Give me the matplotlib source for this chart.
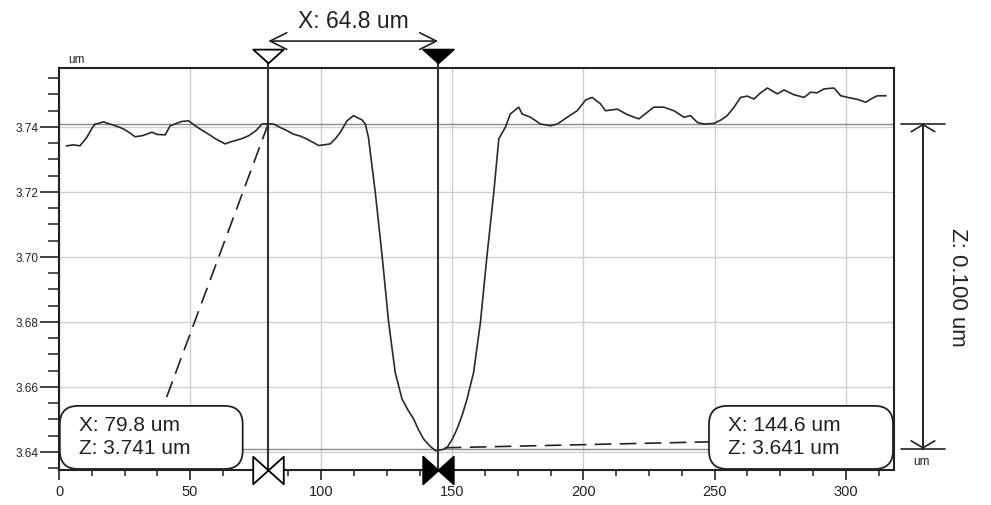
import matplotlib
matplotlib.use("Agg")
import matplotlib.pyplot as plt
import matplotlib.transforms as mtransforms
from matplotlib.path import Path
from matplotlib.patches import FancyBboxPatch
from matplotlib.ticker import MultipleLocator, FormatStrFormatter

plt.rcParams['font.family'] = ['Liberation Sans', 'DejaVu Sans']

# ---- profile data (x in um, z in um) ----
x_um = [2.9, 5.5, 8.0, 10.6, 12.5, 13.7, 15.5, 16.9, 19.0, 21.4, 23.5, 25.2, 27.0, 29.0,
        31.6, 33.5, 35.4, 37.5, 40.5, 42.4, 44.5, 46.8, 49.4, 51.9, 54.5, 57.0, 60.0,
        63.4, 65.0, 67.2, 70.0, 72.3, 75.0, 77.4, 79.8, 81.8, 84.5, 86.9, 89.4, 92.0,
        94.5, 97.0, 99.0, 101.0, 103.4, 105.5, 107.3, 109.8, 112.3, 114.0, 115.5, 116.8,
        118.0, 118.7, 120.6, 123.2, 125.7, 128.2, 130.8, 133.0, 135.2, 137.0, 139.0,
        141.5, 143.5, 144.6, 146.5, 148.0, 150.0, 151.8, 153.8, 155.6, 158.1, 160.7,
        163.2, 165.8, 167.7, 168.5, 170.2, 172.1, 175.3, 176.6, 179.8, 183.6, 187.4,
        190.0, 193.8, 197.6, 200.8, 203.3, 206.5, 208.4, 212.9, 216.7, 221.1, 223.5,
        226.8, 230.6, 234.5, 238.3, 240.8, 243.4, 245.9, 249.7, 252.5, 254.8, 257.4,
        259.9, 262.5, 265.0, 267.5, 270.1, 273.9, 276.5, 280.0, 284.1, 286.6, 289.0,
        291.7, 295.5, 298.1, 301.9, 304.5, 307.6, 310.0, 312.1, 315.3]
z_um = [3.7342, 3.7345, 3.7342, 3.7368, 3.7395, 3.7409, 3.7412, 3.7416, 3.7410, 3.7404,
        3.7398, 3.7391, 3.7382, 3.7370, 3.7373, 3.7378, 3.7384, 3.7377, 3.7376, 3.7404,
        3.7410, 3.7417, 3.7419, 3.7404, 3.7390, 3.7378, 3.7362, 3.7348, 3.7353, 3.7358,
        3.7365, 3.7373, 3.7388, 3.7409, 3.7410, 3.7409, 3.7398, 3.7389, 3.7378, 3.7372,
        3.7363, 3.7352, 3.7343, 3.7345, 3.7348, 3.7365, 3.7384, 3.7419, 3.7435, 3.7428,
        3.7422, 3.7409, 3.7368, 3.7322, 3.7199, 3.7004, 3.6799, 3.6645, 3.6563, 3.6530,
        3.6502, 3.6470, 3.6440, 3.6418, 3.6404, 3.6405, 3.6408, 3.6414, 3.6440, 3.6471,
        3.6515, 3.6563, 3.6645, 3.6799, 3.7004, 3.7199, 3.7363, 3.7375, 3.7399, 3.7440,
        3.7461, 3.7440, 3.7430, 3.7409, 3.7404, 3.7409, 3.7430, 3.7450, 3.7483, 3.7491,
        3.7471, 3.7450, 3.7455, 3.7438, 3.7425, 3.7440, 3.7461, 3.7461, 3.7450, 3.7430,
        3.7435, 3.7414, 3.7409, 3.7411, 3.7422, 3.7435, 3.7461, 3.7491, 3.7495, 3.7486,
        3.7505, 3.7520, 3.7502, 3.7514, 3.7500, 3.7491, 3.7507, 3.7505, 3.7517, 3.7520,
        3.7496, 3.7489, 3.7485, 3.7476, 3.7488, 3.7496, 3.7496]

# ---- cursors ----
cursor_x = [79.8, 144.6]
cursor_z = [3.741, 3.641]
dx_label = "X: 64.8 um"
dz_label = "Z: 0.100 um"
box1_lines = ["X: 79.8 um", "Z: 3.741 um"]
box2_lines = ["X: 144.6 um", "Z: 3.641 um"]

x_ticks = [0, 50, 100, 150, 200, 250, 300]
y_ticks = [3.64, 3.66, 3.68, 3.70, 3.72, 3.74]

XMIN, XMAX = 0, 318.4
YMIN, YMAX = 3.63446, 3.75815

TXT = '#222222'

fig = plt.figure(figsize=(9.91, 5.06), dpi=100)
ax = fig.add_axes([59 / 991, 35 / 506, 835 / 991, 402 / 506])
ax.set_xlim(XMIN, XMAX)
ax.set_ylim(YMIN, YMAX)

# grid
ax.set_xticks(x_ticks)
ax.set_yticks(y_ticks)
ax.xaxis.set_minor_locator(MultipleLocator(12.5))
ax.yaxis.set_minor_locator(MultipleLocator(0.005))
ax.yaxis.set_major_formatter(FormatStrFormatter('%.2f'))
ax.grid(True, which='major', color='#cfcfcf', lw=1.0, zorder=0)
ax.set_axisbelow(True)

ax.tick_params(axis='x', which='major', direction='out', length=7, width=1.2,
               labelsize=10.5, pad=3, colors=TXT)
ax.tick_params(axis='x', which='minor', direction='out', length=4, width=1.1, colors=TXT)
ax.tick_params(axis='y', which='major', direction='out', length=14, width=1.2,
               labelsize=8.5, pad=1, colors=TXT)
ax.tick_params(axis='y', which='minor', direction='out', length=8, width=1.1, colors=TXT)
for s in ax.spines.values():
    s.set_color('#222222')
    s.set_linewidth(1.5)

# horizontal cursor level lines
for zc in cursor_z:
    ax.axhline(zc, color='#8a8a8a', lw=1.0, zorder=1)
# vertical cursor lines
for xc in cursor_x:
    ax.axvline(xc, color='#333333', lw=1.5, zorder=2)

# profile
ax.plot(x_um, z_um, color='#2a2a2a', lw=1.2, zorder=3)

# dashed leader lines to callout boxes
b1 = (0.001, 0.0025, 0.219, 0.157)   # axes-fraction box: x0, y0, w, h
b2 = (0.7784, 0.0025, 0.2204, 0.157)


def fx(f):
    return XMIN + f * (XMAX - XMIN)


def fy(f):
    return YMIN + f * (YMAX - YMIN)


ax.plot([cursor_x[0], fx(0.125)], [cursor_z[0], fy(b1[1] + b1[3])],
        color='#222222', lw=1.2, linestyle=(0, (10, 5)), zorder=4)
ax.plot([cursor_x[1] + 2.5, fx(b2[0])], [cursor_z[1] + 0.0003, fy(0.07)],
        color='#222222', lw=1.2, linestyle=(0, (10, 5)), zorder=4)

# callout boxes
asp = 835 / 402
for (bx, by, bw, bh), lines in ((b1, box1_lines), (b2, box2_lines)):
    p = FancyBboxPatch((bx, by), bw, bh,
                       boxstyle="round,pad=0,rounding_size=0.022",
                       mutation_aspect=asp, transform=ax.transAxes,
                       facecolor='white', edgecolor='#222222', lw=1.3,
                       zorder=6, clip_on=False)
    ax.add_patch(p)
    ax.text(bx + 0.023, by + bh * 0.7, lines[0], transform=ax.transAxes,
            fontsize=15, color=TXT, va='center', ha='left', zorder=7)
    ax.text(bx + 0.023, by + bh * 0.335, lines[1], transform=ax.transAxes,
            fontsize=15, color=TXT, va='center', ha='left', zorder=7)

# markers: top triangles and bottom bowties
blend_xd = mtransforms.blended_transform_factory(ax.transData, ax.transAxes)
tri = Path([(-1, 0.45), (1, 0.45), (0, -0.45), (-1, 0.45)],
           [Path.MOVETO, Path.LINETO, Path.LINETO, Path.CLOSEPOLY])
bow = Path([(-1, 0.9), (-1, -0.9), (1, 0.9), (1, -0.9), (-1, 0.9)],
           [Path.MOVETO, Path.LINETO, Path.LINETO, Path.LINETO, Path.CLOSEPOLY])
fills = ['white', 'black']
for xc, fc in zip(cursor_x, fills):
    ax.plot([xc, xc], [1.0, 1.02], color='#333333', lw=1.5, transform=blend_xd,
            clip_on=False, zorder=5)
    ax.plot([xc], [1.030], marker=tri, ms=22, mfc=fc, mec='black', mew=1.3,
            transform=blend_xd, clip_on=False, zorder=8, ls='none')
    ax.plot([xc], [0.0], marker=bow, ms=22, mfc=fc, mec='black', mew=1.3,
            transform=blend_xd, clip_on=False, zorder=8, ls='none')

# top dimension arrow (X)
ytop = 1.067
ax.annotate('', xy=(cursor_x[0], ytop), xytext=(cursor_x[1], ytop),
            xycoords=blend_xd, textcoords=blend_xd, annotation_clip=False,
            arrowprops=dict(arrowstyle='<->,head_length=0.6,head_width=0.3',
                            mutation_scale=20, color='#222222', lw=1.2,
                            shrinkA=0, shrinkB=0))
ax.text(sum(cursor_x) / 2, 1.117, dx_label, transform=blend_xd, fontsize=16.5,
        color=TXT, ha='center', va='center', clip_on=False)

# right dimension arrow (Z)
blend_ad = mtransforms.blended_transform_factory(ax.transAxes, ax.transData)
xr = 1.0347
ax.annotate('', xy=(xr, cursor_z[0]), xytext=(xr, cursor_z[1]),
            xycoords=blend_ad, textcoords=blend_ad, annotation_clip=False,
            arrowprops=dict(arrowstyle='<->,head_length=0.5,head_width=0.85',
                            mutation_scale=10, color='#222222', lw=1.2,
                            shrinkA=0, shrinkB=0))
ax.annotate('', xy=(xr, cursor_z[0]), xytext=(xr, cursor_z[1]),
            xycoords=blend_ad, textcoords=blend_ad, annotation_clip=False,
            arrowprops=dict(arrowstyle='|-|,widthA=1.6,widthB=1.6',
                            mutation_scale=10, color='#222222', lw=1.2,
                            shrinkA=0, shrinkB=0))
ax.text(1.0766, sum(cursor_z) / 2, dz_label, transform=blend_ad, fontsize=16,
        color=TXT, ha='center', va='center', rotation=-90, clip_on=False)

# unit labels
ax.text(0.011, 1.022, 'um', transform=ax.transAxes, fontsize=8.5, color=TXT,
        ha='left', va='center')
ax.text(1.023, 0.022, 'um', transform=ax.transAxes, fontsize=8.5, color=TXT,
        ha='left', va='center')

fig.savefig('out.png', dpi=100)
